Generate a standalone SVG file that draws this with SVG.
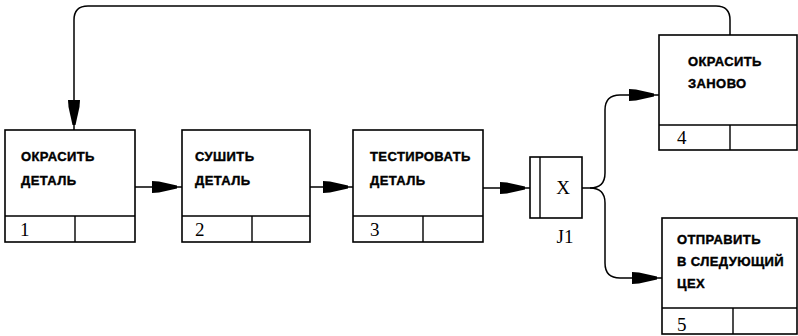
<svg xmlns="http://www.w3.org/2000/svg" width="798" height="336" viewBox="0 0 798 336">
<style>
.box{fill:#fff;stroke:#000;stroke-width:1.6}
.div{stroke:#000;stroke-width:1.4;fill:none}
.lbl{font-family:"Liberation Sans",Arial,sans-serif;font-weight:bold;font-size:13px;letter-spacing:0.4px;fill:#000;stroke:#000;stroke-width:0.4}
.num{font-family:"Liberation Serif","Times New Roman",serif;font-size:19px;fill:#000}
.conn{fill:none;stroke:#000;stroke-width:1.5}
</style>
<defs>
<marker id="ah" markerUnits="userSpaceOnUse" markerWidth="32" markerHeight="16" refX="30" refY="7" orient="auto">
<path d="M0,1 L7,1.5 L25,5.5 L25,8.5 L7,12.5 L0,13 Z" fill="#000"/>
</marker>
</defs>
<g id="connectors">
<path class="conn" d="M730,35 V20 Q730,6 716,6 H88 Q74,6 74,20 V130" marker-end="url(#ah)"/>
<path class="conn" d="M135,187 H182" marker-end="url(#ah)"/>
<path class="conn" d="M310,187 H353" marker-end="url(#ah)"/>
<path class="conn" d="M483,188 H530" marker-end="url(#ah)"/>
<path class="conn" d="M582,188 H590 Q605,188 605,173 V110 Q605,95 620,95 H659" marker-end="url(#ah)"/>
<path class="conn" d="M590,188 Q605,188 605,203 V263 Q605,278 620,278 H662" marker-end="url(#ah)"/>
</g>
<g id="node1">
<rect class="box" x="5" y="130" width="130" height="112"/>
<path class="div" d="M5,216 H135 M75,216 V242"/>
<text class="lbl" x="21" y="161">ОКРАСИТЬ</text>
<text class="lbl" x="21" y="185">ДЕТАЛЬ</text>
<text class="num" x="20" y="236">1</text>
</g>
<g id="node2">
<rect class="box" x="182" y="130" width="128" height="112"/>
<path class="div" d="M182,216 H310 M252,216 V242"/>
<text class="lbl" x="195" y="161">СУШИТЬ</text>
<text class="lbl" x="195" y="185">ДЕТАЛЬ</text>
<text class="num" x="195" y="236">2</text>
</g>
<g id="node3">
<rect class="box" x="353" y="130" width="130" height="112"/>
<path class="div" d="M353,216 H483 M423,216 V242"/>
<text class="lbl" x="370" y="161">ТЕСТИРОВАТЬ</text>
<text class="lbl" x="370" y="185">ДЕТАЛЬ</text>
<text class="num" x="370" y="236">3</text>
</g>
<g id="j1">
<rect class="box" x="530" y="157" width="52" height="61"/>
<path class="div" d="M540,157 V218"/>
<text class="num" x="563" y="194" text-anchor="middle" font-size="21">X</text>
<text class="num" x="565" y="243" text-anchor="middle" font-size="15">J1</text>
</g>
<g id="node4">
<rect class="box" x="659" y="35" width="138" height="115"/>
<path class="div" d="M659,125 H797 M730,125 V150"/>
<text class="lbl" x="688" y="66">ОКРАСИТЬ</text>
<text class="lbl" x="688" y="88">ЗАНОВО</text>
<text class="num" x="677" y="144">4</text>
</g>
<g id="node5">
<rect class="box" x="662" y="218" width="135" height="116"/>
<path class="div" d="M662,308 H797 M733,308 V334"/>
<text class="lbl" x="677" y="244">ОТПРАВИТЬ</text>
<text class="lbl" x="677" y="266">В СЛЕДУЮЩИЙ</text>
<text class="lbl" x="677" y="288">ЦЕХ</text>
<text class="num" x="677" y="331">5</text>
</g>
</svg>
